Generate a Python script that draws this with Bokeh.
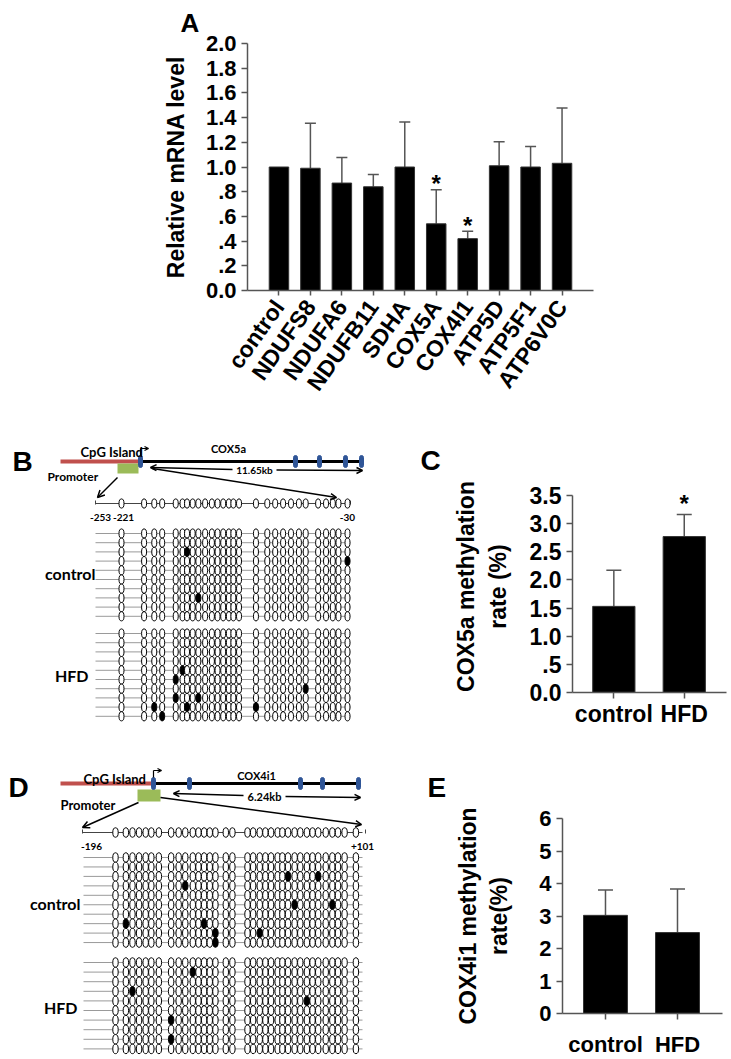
from bokeh.plotting import figure
from bokeh.layouts import column, row
from bokeh.models import (Range1d, FixedTicker, Whisker, TeeHead,
                          ColumnDataSource, Arrow, OpenHead)
from bokeh.core.properties import value
from bokeh.embed import file_html
from bokeh.resources import INLINE

# ---------------------------------------------------------------- data
# Panel A : relative mRNA level
genes = ["control", "NDUFS8", "NDUFA6", "NDUFB11", "SDHA",
         "COX5A", "COX4I1", "ATP5D", "ATP5F1", "ATP6V0C"]
mrna_mean = [1.00, 0.99, 0.87, 0.84, 1.00, 0.54, 0.42, 1.01, 1.00, 1.03]
mrna_upper = [1.00, 1.355, 1.077, 0.94, 1.365, 0.815, 0.48, 1.205, 1.165, 1.477]
mrna_signif = [False, False, False, False, False, True, True, False, False, False]
a_ticks = [0.0, 0.2, 0.4, 0.6, 0.8, 1.0, 1.2, 1.4, 1.6, 1.8, 2.0]
a_tick_labels = ["0.0", ".2", ".4", ".6", ".8", "1.0", "1.2", "1.4", "1.6", "1.8", "2.0"]

# Panels C / E : methylation rate
groups = ["control", "HFD"]
cox5a_rate = [1.53, 2.77]
cox5a_upper = [2.17, 3.16]
cox5a_signif = [False, True]
c_ticks = [0.0, 0.5, 1.0, 1.5, 2.0, 2.5, 3.0, 3.5]
c_tick_labels = ["0.0", ".5", "1.0", "1.5", "2.0", "2.5", "3.0", "3.5"]

cox4i1_rate = [3.02, 2.49]
cox4i1_upper = [3.80, 3.83]
e_ticks = [0, 1, 2, 3, 4, 5, 6]
e_tick_labels = ["0", "1", "2", "3", "4", "5", "6"]

# Panel B : COX5a promoter bisulfite sequencing (CpG positions, bp)
cox5a_amplicon = [-253, -30]
cox5a_cpg_bp = [-230, -210, -201, -194, -182, -176, -172, -167, -162, -156,
                -150, -145, -140, -135, -131, -126, -111, -101, -94, -87,
                -80, -73, -67, -56, -49, -43, -38, -30]
cox5a_site_labels = ["-253", "-221", "-30"]
cox5a_clones = [10, 10]
# methylated CpGs as (clone, site index)
cox5a_ctrl_meth = [(2, 6), (3, 27), (7, 8)]
cox5a_hfd_meth = [(4, 5), (5, 4), (6, 22), (7, 4), (7, 8), (8, 2), (8, 6),
                  (8, 16), (9, 3)]

# Panel D : COX4i1 promoter bisulfite sequencing
cox4i1_amplicon = [-196, 101]
cox4i1_cpg_bp = [-161, -150, -143, -136, -129, -123, -115, -102, -94, -87,
                 -79, -73, -67, -61, -55, -44, -37, -21, -15, -8,
                 -2, 4, 11, 16, 22, 29, 35, 42, 48, 54,
                 62, 69, 75, 82, 94]
cox4i1_site_labels = ["-196", "+101"]
cox4i1_clones = [10, 10]
cox4i1_ctrl_meth = [(2, 24), (2, 29), (3, 9), (5, 25), (5, 31), (7, 1),
                    (7, 12), (8, 14), (8, 19), (9, 14)]
cox4i1_hfd_meth = [(1, 10), (3, 2), (4, 27), (6, 7), (8, 7)]

# ---------------------------------------------------------------- styles
ARIAL = "Liberation Sans"
CAL = "Lato"
AX = "#555555"
RED = "#c0504d"
BLUE = "#2f5597"
GREEN = "#9bbb59"


def style_axes(p, tick_size="22px", label_size="22px"):
    p.grid.visible = False
    p.outline_line_color = None
    for ax in p.axis:
        ax.axis_line_color = AX
        ax.axis_line_width = 1.5
        ax.major_tick_line_color = AX
        ax.major_tick_line_width = 1.5
        ax.major_tick_in = 0
        ax.major_tick_out = 6
        ax.minor_tick_line_color = None
        ax.major_label_text_font = ARIAL
        ax.major_label_text_font_style = "bold"
        ax.major_label_text_font_size = tick_size
        ax.major_label_text_color = "black"
        ax.axis_label_text_font = ARIAL
        ax.axis_label_text_font_style = "bold"
        ax.axis_label_text_font_size = label_size
        ax.axis_label_text_color = "black"


def bars(p, means, uppers, width, cap):
    xs = list(range(len(means)))
    p.vbar(x=xs, top=means, width=width, bottom=0, fill_color="black",
           line_color="#333333", line_width=1)
    wx = [x for x, m, u in zip(xs, means, uppers) if u > m]
    wl = [m for m, u in zip(means, uppers) if u > m]
    wu = [u for m, u in zip(means, uppers) if u > m]
    src = ColumnDataSource(dict(x=wx, lower=wl, upper=wu))
    w = Whisker(base="x", lower="lower", upper="upper", source=src,
                dimension="height", line_color=AX, line_width=1.5,
                upper_head=TeeHead(size=cap, line_color=AX, line_width=1.5),
                lower_head=None)
    p.add_layout(w)


def stars(p, uppers, signif, size, yoff):
    sx = [i for i, s in enumerate(signif) if s]
    sy = [uppers[i] for i in sx]
    p.text(x=sx, y=sy, text=["*"] * len(sx), text_align="center",
           text_baseline="alphabetic", y_offset=yoff,
           text_font=value(ARIAL), text_font_style="bold",
           text_font_size=size, text_color="black")


def fig(**kw):
    return figure(output_backend="svg", toolbar_location=None,
                  frame_align=False, **kw)


# ---------------------------------------------------------------- panel A
pA = fig(width=731, height=408, x_range=Range1d(-1, 10),
         y_range=Range1d(0, 2.0), min_border_left=247,
         min_border_right=138, min_border_top=40, min_border_bottom=118,
         title="A")
pA.title.align = "left"
pA.title.offset = -67
pA.title.standoff = 11
pA.title.text_font = ARIAL
pA.title.text_font_style = "bold"
pA.title.text_font_size = "26px"
pA.title.text_color = "black"
style_axes(pA, tick_size="22px", label_size="23px")
bars(pA, mrna_mean, mrna_upper, 0.62, 11)
stars(pA, mrna_upper, mrna_signif, "24px", -6)
pA.yaxis.ticker = FixedTicker(ticks=a_ticks)
pA.yaxis.major_label_overrides = dict(zip(a_ticks, a_tick_labels))
pA.yaxis.axis_label = "Relative mRNA level"
pA.yaxis.axis_label_standoff = 14
pA.xaxis.ticker = FixedTicker(ticks=list(range(len(genes))))
pA.xaxis.major_label_overrides = {i: g for i, g in enumerate(genes)}
pA.xaxis.major_label_orientation = 0.95
pA.xaxis.major_label_text_font_size = "23px"
pA.xaxis.major_tick_out = 5
pA.xaxis.major_label_standoff = 7

# ---------------------------------------------------------------- panel C
pC = fig(width=281, height=352, x_range=Range1d(-0.587, 1.6),
         y_range=Range1d(0, 3.766), min_border_left=112, min_border_right=5,
         min_border_top=72, min_border_bottom=68)
style_axes(pC, tick_size="23px", label_size="23px")
bars(pC, cox5a_rate, cox5a_upper, 0.6, 15)
stars(pC, cox5a_upper, cox5a_signif, "24px", -11)
pC.yaxis.bounds = (0, 3.5)
pC.yaxis.ticker = FixedTicker(ticks=c_ticks)
pC.yaxis.major_label_overrides = dict(zip(c_ticks, c_tick_labels))
pC.yaxis.axis_label = "COX5a methylation\nrate (%)"
pC.yaxis.axis_label_standoff = 16
pC.xaxis.ticker = FixedTicker(ticks=[0, 1])
pC.xaxis.major_label_overrides = {i: g for i, g in enumerate(groups)}
pC.xaxis.major_label_standoff = 2

# ---------------------------------------------------------------- panel E
pE = fig(width=281, height=299, x_range=Range1d(-0.597, 1.625),
         y_range=Range1d(0, 6), min_border_left=112, min_border_right=9,
         min_border_top=58, min_border_bottom=45)
style_axes(pE, tick_size="22px", label_size="23px")
bars(pE, cox4i1_rate, cox4i1_upper, 0.61, 15)
pE.yaxis.ticker = FixedTicker(ticks=e_ticks)
pE.yaxis.major_label_overrides = dict(zip(e_ticks, e_tick_labels))
pE.yaxis.axis_label = "COX4i1 methylation\nrate(%)"
pE.yaxis.axis_label_standoff = 24
pE.xaxis.ticker = FixedTicker(ticks=[0, 1])
pE.xaxis.major_label_overrides = {i: g for i, g in enumerate(groups)}
pE.xaxis.major_label_standoff = 12
pE.xaxis.major_label_text_font_size = "22px"


# ---------------------------------------------------------------- B / D canvases
def canvas(w, h, top):
    p = fig(width=w, height=h, x_range=Range1d(0, w),
            y_range=Range1d(top + h, top), min_border=0,
            x_axis_location=None, y_axis_location=None)
    p.grid.visible = False
    p.outline_line_color = None
    return p


def txt(p, x, y, s, size, font=CAL, align="left", base="middle", style="bold"):
    p.text(x=[x], y=[y], text=[s], text_font=value(font),
           text_font_style=style, text_font_size=size, text_align=align,
           text_baseline=base, text_color="black")


def arrow(p, x0, y0, x1, y1, both=False, size=7, lw=1.5):
    p.add_layout(Arrow(x_start=x0, y_start=y0, x_end=x1, y_end=y1,
                       line_color="black", line_width=lw,
                       end=OpenHead(size=size, line_width=lw, line_color="black"),
                       start=OpenHead(size=size, line_width=lw, line_color="black") if both else None))


def gene_model(p, y, x_red0, x_tss, x_end, exons, prom_x0, prom_x1, prom_y0,
               prom_y1):
    p.segment(x0=[x_red0], y0=[y], x1=[x_tss], y1=[y], line_color=RED,
              line_width=4)
    p.segment(x0=[x_tss], y0=[y], x1=[x_end], y1=[y], line_color="black",
              line_width=3)
    p.quad(left=[prom_x0], right=[prom_x1], top=[prom_y0], bottom=[prom_y1],
           fill_color=GREEN, line_color=None)
    p.rect(x=exons, y=[y] * len(exons), width=4, height=12,
           fill_color=BLUE, line_color=BLUE, border_radius=2)
    # transcription start bent arrow
    p.line(x=[x_tss + 1, x_tss + 1], y=[y - 6, y - 13], line_color="black",
           line_width=1.2)
    arrow(p, x_tss + 1, y - 13, x_tss + 9, y - 13, size=4, lw=1.2)


def lollipops(p, sites_bp, amplicon, x0, x1, header_y, line_x0, line_x1,
              groups_spec, ew, eh):
    def bx(bp):
        return x0 + (bp - amplicon[0]) * (x1 - x0) / (amplicon[1] - amplicon[0])
    sx = [bx(b) for b in sites_bp]
    # header
    p.segment(x0=[x0], y0=[header_y], x1=[x1], y1=[header_y],
              line_color="#444444", line_width=1)
    p.segment(x0=[x0, x1 + 3], y0=[header_y - 3, header_y - 3],
              x1=[x0, x1 + 3], y1=[header_y + 1, header_y + 1],
              line_color="#444444", line_width=1)
    p.ellipse(x=sx, y=[header_y] * len(sx), width=ew, height=eh,
              fill_color="white", line_color="black", line_width=1)
    for (y_first, step, n, meth) in groups_spec:
        ys = [y_first + i * step for i in range(n)]
        p.segment(x0=[line_x0] * n, y0=ys, x1=[line_x1] * n, y1=ys,
                  line_color="#9a9a9a", line_width=1)
        ex, ey, fc = [], [], []
        mset = set(meth)
        for r, yy in enumerate(ys):
            for c, xx in enumerate(sx):
                ex.append(xx)
                ey.append(yy)
                fc.append("black" if (r, c) in mset else "white")
        p.ellipse(x=ex, y=ey, width=ew, height=eh, fill_color=fc,
                  line_color="black", line_width=1)
    return sx


# ---- panel B
pB = canvas(450, 352, 408)
txt(pB, 12, 461, "B", "28px", font=ARIAL, base="alphabetic")
txt(pB, 420, 460, "C", "28px", font=ARIAL, base="alphabetic")
gene_model(pB, 461, 60, 139, 362, [140, 295, 319, 345, 361], 117, 138, 463, 473)
txt(pB, 80, 451, "CpG Island", "13px")
txt(pB, 228, 448, "COX5a", "11px", align="center")
txt(pB, 47, 476, "Promoter", "12px")
arrow(pB, 117, 477, 97, 497)
arrow(pB, 232, 469, 150, 467, size=6)
arrow(pB, 276, 469.5, 362, 470, size=6)
txt(pB, 254, 469, "11.65kb", "10px", align="center")
arrow(pB, 152, 468, 336, 497, size=6)
sxB = lollipops(pB, cox5a_cpg_bp, cox5a_amplicon, 95, 347, 503, 95, 350,
                [(533, 9.2, cox5a_clones[0], cox5a_ctrl_meth),
                 (633, 9.2, cox5a_clones[1], cox5a_hfd_meth)], 5, 9.2)
txt(pB, 100, 517, cox5a_site_labels[0], "10px", align="center")
txt(pB, sxB[0] + 2, 517, cox5a_site_labels[1], "10px", align="center")
txt(pB, sxB[-1], 517, cox5a_site_labels[2], "10px", align="center")
txt(pB, 95, 573, groups[0], "16px", align="right")
txt(pB, 88, 675, groups[1], "16px", align="right")

# ---- panel D
pD = canvas(450, 299, 760)
txt(pD, 8, 787, "D", "28px", font=ARIAL, base="alphabetic")
txt(pD, 427, 787, "E", "28px", font=ARIAL, base="alphabetic")
gene_model(pD, 783, 60, 152, 360, [153, 189, 300, 322, 358], 137, 160, 789, 801)
txt(pD, 83, 778, "CpG Island", "13px")
txt(pD, 256, 775, "COX4i1", "11px", align="center")
txt(pD, 60, 804, "Promoter", "13px")
arrow(pD, 138, 802, 82, 827)
arrow(pD, 243, 795, 173, 793, size=6)
arrow(pD, 285, 796, 360, 797, size=6)
txt(pD, 264, 796, "6.24kb", "11px", align="center")
arrow(pD, 160, 797, 361, 824, size=6)
sxD = lollipops(pD, cox4i1_cpg_bp, cox4i1_amplicon, 82, 362, 832, 83, 362,
                [(857, 9.45, cox4i1_clones[0], cox4i1_ctrl_meth),
                 (962, 9.6, cox4i1_clones[1], cox4i1_hfd_meth)], 5.4, 9.5)
txt(pD, 91, 846, cox4i1_site_labels[0], "10px", align="center")
txt(pD, 362, 846, cox4i1_site_labels[1], "10px", align="center")
txt(pD, 80, 903, groups[0], "16px", align="right")
txt(pD, 77, 1007, groups[1], "16px", align="right")

layout = column(pA, row(pB, pC), row(pD, pE))
open("out.html", "w").write(file_html(layout, INLINE))
